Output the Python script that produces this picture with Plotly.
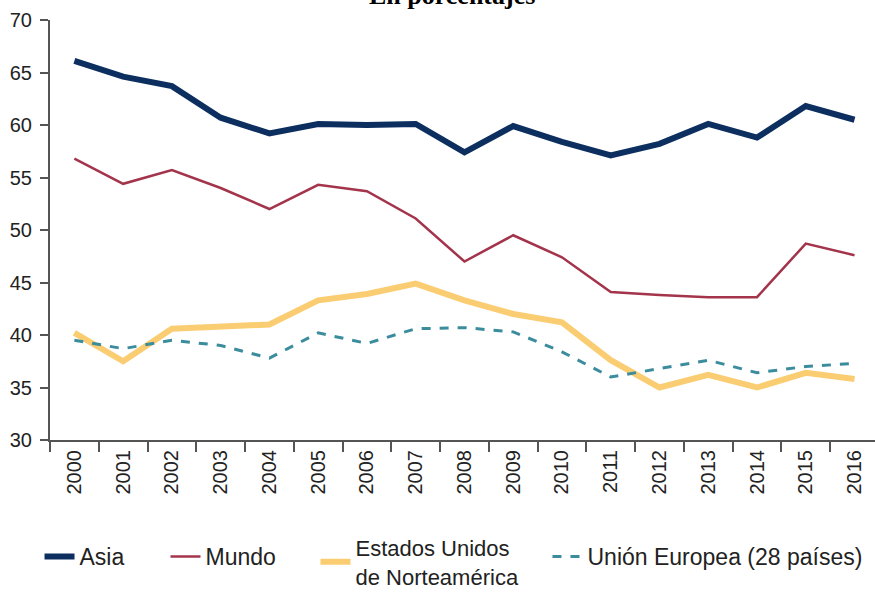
import plotly.graph_objects as go

years = [str(y) for y in range(2000, 2017)]

asia = [66.1, 64.6, 63.7, 60.7, 59.2, 60.1, 60.0, 60.1, 57.4, 59.9,
        58.4, 57.1, 58.2, 60.1, 58.8, 61.8, 60.5]
mundo = [56.8, 54.4, 55.7, 54.0, 52.0, 54.3, 53.7, 51.1, 47.0, 49.5,
         47.4, 44.1, 43.8, 43.6, 43.6, 48.7, 47.6]
eeuu = [40.2, 37.5, 40.6, 40.8, 41.0, 43.3, 43.9, 44.9, 43.3, 42.0,
        41.2, 37.6, 35.0, 36.2, 35.0, 36.4, 35.8]
ue = [39.5, 38.7, 39.5, 39.0, 37.8, 40.2, 39.2, 40.6, 40.7, 40.3,
      38.4, 36.0, 36.8, 37.6, 36.4, 37.0, 37.3]

y_ticks = [30, 35, 40, 45, 50, 55, 60, 65, 70]

fig = go.Figure()
fig.add_trace(go.Scatter(x=years, y=asia, name="Asia", mode="lines",
                         line=dict(color="#0c2f5f", width=6), legend="legend"))
fig.add_trace(go.Scatter(x=years, y=mundo, name="Mundo", mode="lines",
                         line=dict(color="#a3344b", width=2.5), legend="legend2"))
fig.add_trace(go.Scatter(x=years, y=eeuu, name="Estados Unidos<br>de Norteamérica",
                         mode="lines", line=dict(color="#fbcd72", width=6),
                         legend="legend3"))
fig.add_trace(go.Scatter(x=years, y=ue, name="Unión Europea (28 países)", mode="lines",
                         line=dict(color="#3b8c9c", width=3, dash="dash"),
                         legend="legend4"))

fig.add_annotation(text="<b>En porcentajes</b>", xref="paper", yref="paper",
                   x=0.487, y=1.02, xanchor="center", yanchor="bottom",
                   showarrow=False,
                   font=dict(family="Liberation Serif", size=26, color="#000"))


def legend_box(x, y=0.0978, size=23):
    return dict(orientation="h", x=x, y=y, xref="paper", yref="container",
                xanchor="left", yanchor="top", bgcolor="rgba(0,0,0,0)",
                font=dict(size=size, color="#222"), itemwidth=30)


fig.update_layout(
    width=875, height=593,
    margin=dict(l=50, r=0, t=20, b=153, autoexpand=False),
    plot_bgcolor="white", paper_bgcolor="white",
    font=dict(family="Liberation Sans", color="#222"),
    showlegend=True,
    legend=legend_box(-0.0127),
    legend2=legend_box(0.140),
    legend3=legend_box(0.3218, y=0.112, size=22),
    legend4=legend_box(0.603),
)
fig.update_xaxes(type="category", range=[-0.5, 16.42], tickson="boundaries",
                 ticks="outside", ticklen=10, tickwidth=2, tickcolor="#555",
                 showline=True, linecolor="#555", linewidth=2,
                 showgrid=False, tickangle=-90,
                 tickfont=dict(size=20, color="#222"))
fig.update_yaxes(range=[30, 70], tickvals=y_ticks, ticks="outside", ticklen=8,
                 tickwidth=2, tickcolor="#555", showline=True, linecolor="#555",
                 linewidth=2, showgrid=False, zeroline=False,
                 ticklabelstandoff=4,
                 tickfont=dict(size=20, color="#222"))

fig.write_html("out.html")
